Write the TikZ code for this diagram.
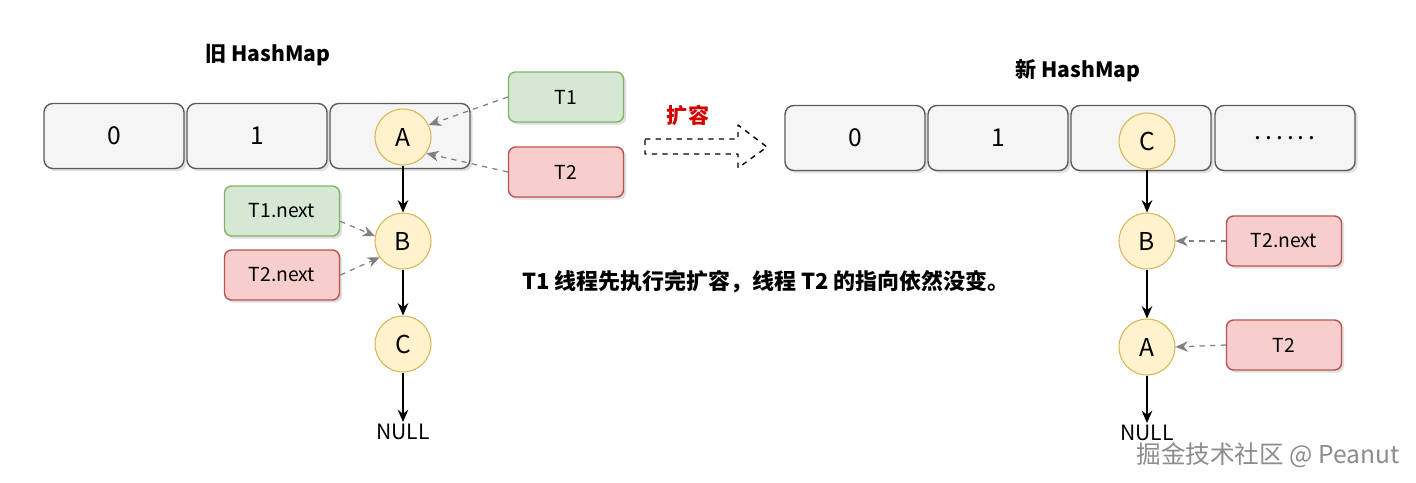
\documentclass[tikz,border=0pt]{standalone}
\usepackage{fontspec}
\setmainfont{Noto Sans CJK SC}
\usetikzlibrary{arrows.meta,shadows}
\definecolor{cellfill}{HTML}{F5F5F5}
\definecolor{cellline}{HTML}{5A5A5A}
\definecolor{entryfill}{HTML}{FFF2CC}
\definecolor{entryline}{HTML}{D6B656}
\definecolor{greenfill}{HTML}{D5E8D4}
\definecolor{greenline}{HTML}{82B366}
\definecolor{redfill}{HTML}{F8CECC}
\definecolor{redline}{HTML}{B85450}
\definecolor{ptrgray}{HTML}{808080}
\definecolor{growred}{HTML}{D40000}

\tikzset{
  cell/.style={draw=cellline,fill=cellfill,rounded corners=5pt,line width=0.8pt,
    minimum width=2.8cm,minimum height=1.3cm,font=\fontsize{14}{16}\selectfont,
    drop shadow={shadow xshift=1.5pt,shadow yshift=-1.5pt,opacity=0.25}},
  entry/.style={circle,draw=entryline,fill=entryfill,minimum size=1.12cm,inner sep=0pt,
    line width=0.6pt,font=\fontsize{14}{16}\selectfont},
  thread/.style={rounded corners=4pt,minimum width=2.3cm,minimum height=1cm,line width=0.8pt,
    font=\fontsize{11}{13}\selectfont,
    drop shadow={shadow xshift=1.5pt,shadow yshift=-1.5pt,opacity=0.25}},
  greenthread/.style={thread,draw=greenline,fill=greenfill},
  redthread/.style={thread,draw=redline,fill=redfill},
  link/.style={-{Stealth[length=7pt,width=6pt]},line width=0.8pt},
  ptr/.style={-{Stealth[length=7pt,width=6pt]},ptrgray,dashed,line width=0.7pt},
  title/.style={font=\bfseries\fontsize{12}{14}\selectfont}
}

\begin{document}
\begin{tikzpicture}[x=0.02cm,y=-0.02cm]
\useasboundingbox (0,0) rectangle (1416,483);

% old table
\node[title] (oldtitle) at (268,55) {旧 HashMap};
\foreach \i/\x/\lab in {0/114/0,1/257/1,2/400/{}}{
  \node[cell] (old\i) at (\x,136) {\lab};
}
\node[entry] (oldA) at (403,137) {A};
\node[entry] (oldB) at (403,241) {B};
\node[entry] (oldC) at (403,344) {C};
\node[font=\fontsize{12}{14}\selectfont,inner sep=1pt] (oldnull) at (403,432) {NULL};
\draw[link] (oldA) -- (oldB);
\draw[link] (oldB) -- (oldC);
\draw[link] (oldC) -- (oldnull);

\node[greenthread] (tone) at (566,97) {T1};
\node[redthread] (ttwo) at (566,172) {T2};
\node[greenthread] (tonenext) at (282,211) {T1.next};
\node[redthread] (ttwonext) at (282,275) {T2.next};
\draw[ptr] (tone.west) -- (oldA.25);
\draw[ptr] (ttwo.west) -- (oldA.-35);
\draw[ptr] (tonenext.-10) -- (oldB.170);
\draw[ptr] (ttwonext.east) -- (oldB.215);

% resize arrow
\node[font=\bfseries\fontsize{12}{14}\selectfont,growred] (grow) at (688,115) {扩容};
\draw[dashed,line width=0.8pt,line join=round] (645,139) -- (738,139) -- (738,125) -- (767,147)
  -- (738,168) -- (738,154) -- (645,154) -- cycle;

\node[font=\bfseries\fontsize{12.5}{14}\selectfont] (note) at (766,282)
  {T1 线程先执行完扩容，线程 T2 的指向依然没变。};

% new table
\node[title] (newtitle) at (1078,71) {新 HashMap};
\foreach \i/\x/\lab in {0/855/0,1/998/1,2/1141/{},3/1285/{.\,.\,.\,.\,.\,.}}{
  \node[cell] (new\i) at (\x,138) {\lab};
}
\node[entry] (newC) at (1147,141) {C};
\node[entry] (newB) at (1147,241) {B};
\node[entry] (newA) at (1147,347) {A};
\node[font=\fontsize{12}{14}\selectfont,inner sep=1pt] (newnull) at (1147,433) {NULL};
\draw[link] (newC) -- (newB);
\draw[link] (newB) -- (newA);
\draw[link] (newA) -- (newnull);

\node[redthread] (newtwonext) at (1284,241) {T2.next};
\node[redthread] (newtwo) at (1284,345) {T2};
\draw[ptr] (newtwonext.west) -- (newB.east);
\draw[ptr] (newtwo.west) -- (newA.east);

% watermark
\node[font=\fontsize{14}{16}\selectfont,black!45] (mark) at (1268,455) {掘金技术社区 @ Peanut};
\end{tikzpicture}
\end{document}
